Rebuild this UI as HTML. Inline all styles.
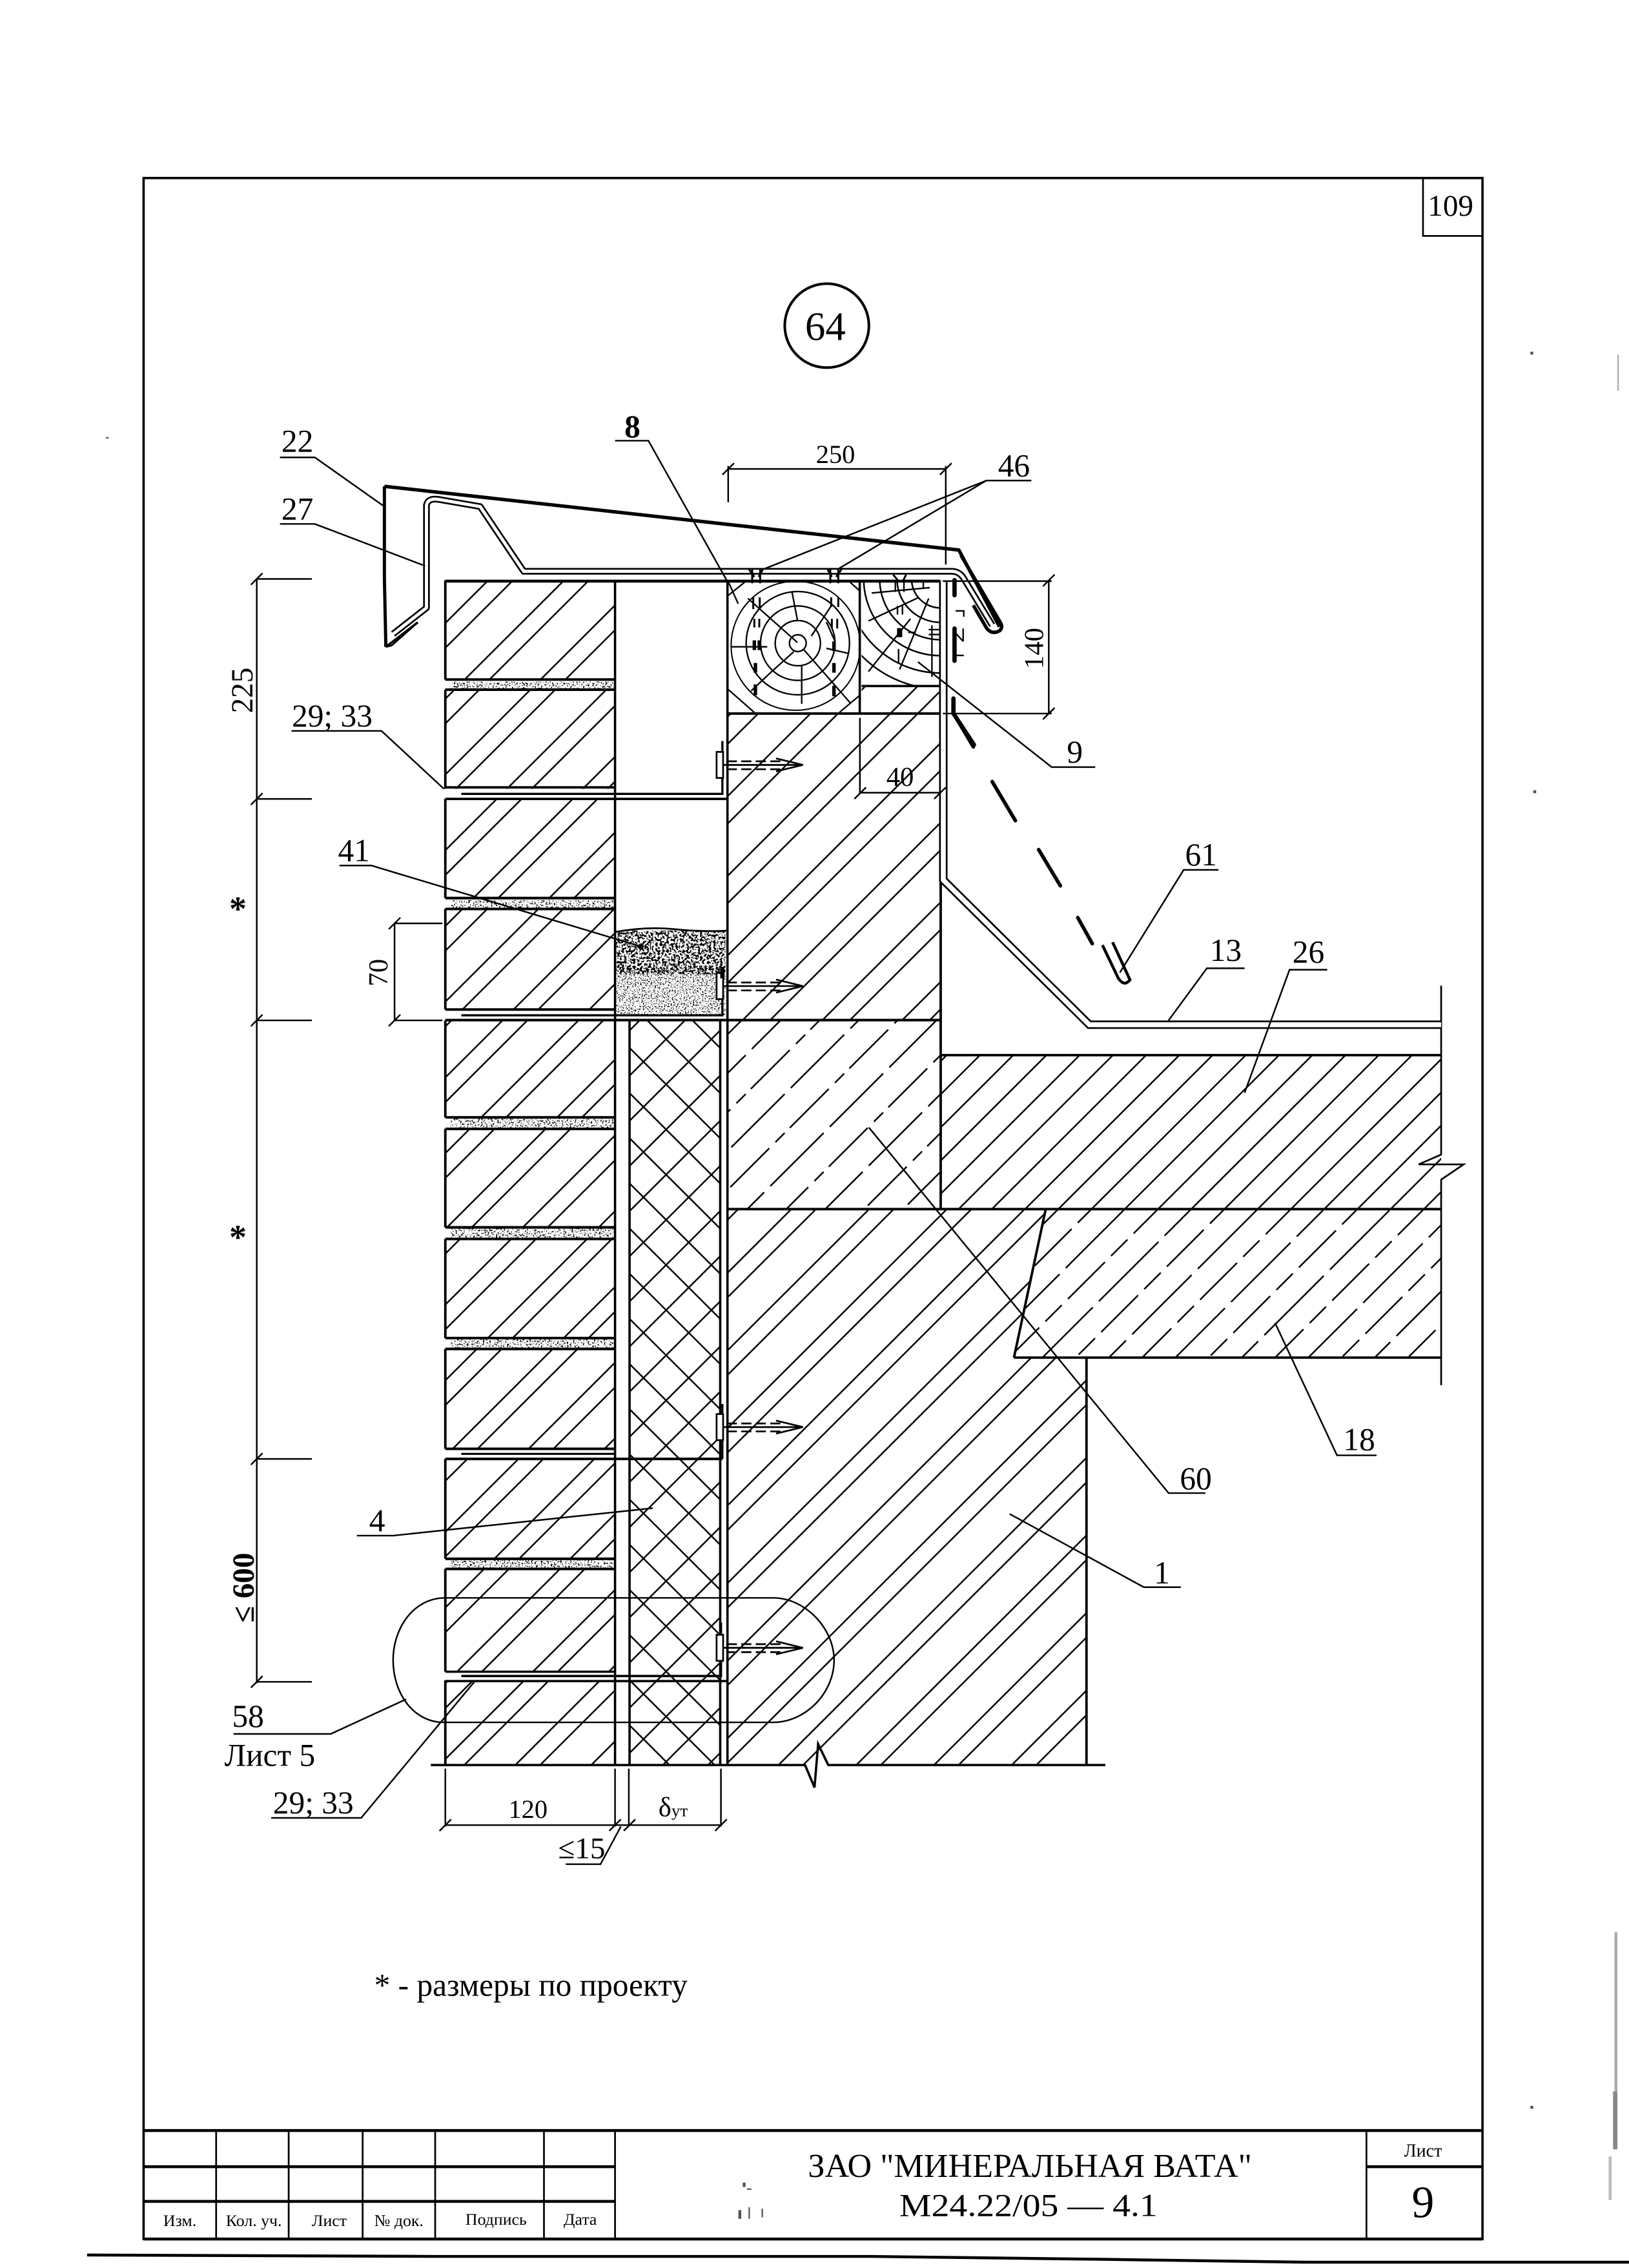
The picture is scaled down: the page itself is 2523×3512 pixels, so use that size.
<!DOCTYPE html>
<html><head><meta charset="utf-8"><title>64</title>
<style>html,body{margin:0;padding:0;background:#fff}svg{display:block}
text{font-family:"Liberation Serif","DejaVu Serif",serif;fill:#000}</style></head><body>
<svg xmlns="http://www.w3.org/2000/svg" width="2523" height="3512" viewBox="0 0 1123 1567" preserveAspectRatio="none">
<defs>
<pattern id="brick" patternUnits="userSpaceOnUse" width="37" height="20" patternTransform="rotate(45)"><path d="M3.500 0V20M15.600 0V20" stroke="#000" stroke-width="1.1"/></pattern>
<pattern id="conc" patternUnits="userSpaceOnUse" width="38.900" height="20" patternTransform="rotate(45)"><path d="M4.600 0V20M18 0V20" stroke="#000" stroke-width="1.1"/></pattern>
<pattern id="light" patternUnits="userSpaceOnUse" width="38" height="58" patternTransform="rotate(45)"><path d="M5 0V30M5 36V58M24 0V6M24 12V50M24 55V58" stroke="#000" stroke-width="1.1"/></pattern>
<pattern id="block" patternUnits="userSpaceOnUse" width="37.900" height="20" patternTransform="rotate(45)"><path d="M3.100 0V20M29 0V20" stroke="#000" stroke-width="1.1"/></pattern>
<pattern id="slab" patternUnits="userSpaceOnUse" width="16.200" height="20" patternTransform="rotate(45)"><path d="M5 0V20" stroke="#000" stroke-width="1.1"/></pattern>
<pattern id="plate" patternUnits="userSpaceOnUse" width="32.400" height="64" patternTransform="rotate(45)"><path d="M5 0V36M5 42V64M21.200 0V8M21.200 14V50M21.200 56V64" stroke="#000" stroke-width="1.1"/></pattern>
<pattern id="ins" patternUnits="userSpaceOnUse" width="31.200" height="31.200" patternTransform="translate(459.200 718)"><path d="M0 0L31.200 31.200M31.200 0L0 31.200" stroke="#000" stroke-width="1.1"/></pattern>
<filter id="noise" x="0" y="0" width="100%" height="100%"><feTurbulence type="fractalNoise" baseFrequency="0.9" numOctaves="2" seed="4"/><feColorMatrix values="0 0 0 0 0 0 0 0 0 0 0 0 0 0 0 0 0 0 12 -6.800"/></filter>
<filter id="sand1" x="0" y="0" width="100%" height="100%"><feTurbulence type="fractalNoise" baseFrequency="0.65" numOctaves="2" seed="9"/><feColorMatrix values="0 0 0 0 0 0 0 0 0 0 0 0 0 0 0 0 0 0 14 -6.800"/></filter>
<filter id="sand2" x="0" y="0" width="100%" height="100%"><feTurbulence type="fractalNoise" baseFrequency="1.1" numOctaves="2" seed="2"/><feColorMatrix values="0 0 0 0 0 0 0 0 0 0 0 0 0 0 0 0 0 0 14 -8"/></filter>
<clipPath id="t2"><rect x="594" y="402" width="54" height="72"/></clipPath>
</defs>
<rect width="1123" height="1567" fill="#fff"/>

<!-- frame -->
<g fill="none" stroke="#000">
<path d="M99 123H1022V1547H99Z" stroke-width="1.6"/>
<path d="M981 123V163H1022" stroke-width="1.2"/>
<circle cx="570" cy="225" r="29" stroke-width="1.8"/>
<path d="M60 1558L300 1559H600L760 1561 900 1563H1123" stroke-width="2"/>
</g>

<!-- hatched fills -->
<rect x="307" y="401" width="117" height="819" fill="url(#brick)"/>
<rect x="502" y="493" width="146" height="212" fill="url(#conc)"/>
<rect x="594" y="474" width="54" height="20" fill="url(#conc)"/>
<rect x="502" y="705" width="146.500" height="130" fill="url(#light)"/>
<path d="M502 835H721L699 938H749V1220H502Z" fill="url(#block)"/>
<rect x="648.500" y="729" width="345" height="106" fill="url(#slab)"/>
<path d="M721 835H993.500V938H699Z" fill="url(#plate)"/>
<rect x="434" y="705" width="62.500" height="515" fill="url(#ins)"/>

<!-- sand -->
<rect x="425" y="643" width="75" height="30" filter="url(#sand1)"/>
<rect x="425" y="668" width="75" height="33" filter="url(#sand2)"/>
<path d="M424 644Q445 640 465 642 T502 643" fill="none" stroke="#000" stroke-width="1.2"/>

<!-- mortar joints -->
<g fill="#fff">
<rect x="305" y="470" width="119" height="7"/><rect x="305" y="545" width="119" height="7"/>
<rect x="305" y="621" width="119" height="7"/><rect x="305" y="698" width="119" height="7"/>
<rect x="305" y="772" width="119" height="8"/><rect x="305" y="848" width="119" height="8"/>
<rect x="305" y="924" width="119" height="8"/><rect x="305" y="1001" width="119" height="7"/>
<rect x="305" y="1077" width="119" height="7"/><rect x="305" y="1155" width="119" height="6"/>
</g>
<rect x="311" y="471" width="112" height="5" filter="url(#noise)"/><rect x="311" y="622" width="112" height="5" filter="url(#noise)"/>
<rect x="311" y="773" width="112" height="6" filter="url(#noise)"/><rect x="311" y="849" width="112" height="6" filter="url(#noise)"/>
<rect x="311" y="925" width="112" height="6" filter="url(#noise)"/><rect x="311" y="1078" width="112" height="5" filter="url(#noise)"/>
<g fill="none" stroke="#000" stroke-width="1.8">
<path d="M307 469.500H424M307 476.500H424M307 620.500H424M307 628H424M307 697.500H424M307 704.800H648.500M307 772H424M307 780H424M307 848H424M307 856H424M307 924.500H424M307 932H424M307 1001H424M307 1008H498M307 1077H424M307 1084H424"/>
<!-- wall outlines -->
<path d="M307 401V469.500M307 476.500V545M307 552V620.500M307 628V697.500M307 705V772M307 780V848M307 856V924.500M307 932V1001M307 1008V1077M307 1084V1155M307 1161V1220" stroke-width="1.7"/>
<path d="M424 401V1220M434 705V1220M496.500 705V1008M496.500 1008V1220M501.500 401V1220" stroke-width="1.6"/>
<path d="M307 401.500H648" stroke-width="2"/>
<path d="M501.500 493H648" stroke-width="1.7"/>
<path d="M592.700 401V493M594 474H648" stroke-width="1.6"/>
<!-- flashing at joints -->
<path d="M307 544H424M307 552H501.500" stroke-width="1.7"/>
<path d="M318 548.500H498V512" stroke-width="1.5"/>
<path d="M318 701.500H498V668" stroke-width="1.5"/>
<path d="M318 1004.500H424M498 1008V970" stroke-width="1.4"/>
<path d="M307 1155H424M318 1158H497V1121M307 1161.500H501" stroke-width="1.6"/>
<path d="M297 1219.500H555L561.500 1235 564 1205 571 1219.500H762" stroke-width="1.6"/>
<path d="M648.500 401V835M502 835.400H993.500M648.500 729H993.500M749 938V1220M699 938H993.500M721 835L699 938" stroke-width="1.7"/>
<path d="M993.500 681V797.700L978 804.500H1009L993.500 815V957" stroke-width="1.2"/>
</g>

<!-- cap 22 -->
<path d="M265 336L661 380 689 433" fill="none" stroke="#000" stroke-width="2.4" stroke-linejoin="round"/>
<path d="M265 336V400L266 447" fill="none" stroke="#000" stroke-width="2.2"/>
<path d="M266 447L288 430" fill="none" stroke="#000" stroke-width="1.6"/>
<path d="M266 447L270 446 288 430" fill="none" stroke="#000" stroke-width="1.2"/>
<!-- flashing 27 double line -->
<path d="M271 438L294 420V349Q295 344 302 345L331 350 361 394.700H656Q661 394.700 664 399L684 432" fill="none" stroke="#000" stroke-width="4.600" stroke-linejoin="round"/>
<path d="M271 438L294 420V349Q295 344 302 345L331 350 361 394.700H656Q661 394.700 664 399L684 432" fill="none" stroke="#fff" stroke-width="2.200" stroke-linejoin="round"/>

<!-- right flashing -->
<path d="M650.300 401V608L751 708H993.500" fill="none" stroke="#000" stroke-width="5.800"/>
<path d="M650.300 401V608L751 708H993.500" fill="none" stroke="#fff" stroke-width="3.400"/>

<!-- timber detail, roof edge: coordinates from a 3x crop -->
<g transform="translate(489.600 383.700) scale(.1484 .1487)" fill="none" stroke="#000" stroke-width="7">
<circle cx="407" cy="408" r="39"/><circle cx="407" cy="408" r="105"/><circle cx="407" cy="408" r="173"/><circle cx="407" cy="408" r="240"/><circle cx="397" cy="420" r="300" stroke-width="6"/>
<path d="M175 200L405 405M380 170L405 300M565 230L470 375M265 425H95M640 455L540 432M388 448L280 545 190 630M432 435L650 685M425 510V690M540 310L580 400"/>
<path d="M85 125L130 225M85 185L160 125M650 125L695 165M80 620L205 730M600 730L695 650"/>
<path d="M200 195V250M230 195V250M562 195V240M595 195V240M205 295V335M228 295V335M565 295V340M590 295V340" stroke-width="9"/>
<path d="M205 395V440M228 395V440M575 400V445M210 500V545M575 500V545M210 600V650M575 605V655" stroke-width="16"/>
<path d="M195 65V130M232 65V130M180 65L205 100M245 65L225 100M558 65V130M595 65V130M545 65L565 100M610 65L585 100M850 90L875 120M910 90L895 120" stroke-width="9"/>
<path d="M860 125V170M900 125V170M750 175L1020 150M990 120V155M735 305L970 195M870 235V275M893 235V275M1015 200L880 530M735 540L930 295M875 435V500" stroke-width="7"/>
<path d="M880 340V375M920 358H955M1030 325V565M1015 345H1065M1015 368H1065" stroke-width="7"/>
<path d="M870 340H890V378H870Z" fill="#000" stroke-width="4"/>
<path d="M1135 115V185M1135 340V490M1130 665V735L1225 880" stroke-width="20" stroke-linecap="round"/>
<path d="M1140 258H1178V285M1175 340V400M1130 465H1178M1175 400L1130 350" stroke-width="7"/>
<path d="M1222 232L1285 340Q1310 370 1345 350 1360 335 1350 315L1165 0" stroke-width="16" stroke-linejoin="round"/>
</g>
<g clip-path="url(#t2)" fill="none" stroke="#000" stroke-width="1.1">
<circle cx="648.400" cy="400" r="20"/><circle cx="648.400" cy="400" r="30"/><circle cx="648.400" cy="400" r="42"/><circle cx="648.400" cy="400" r="53"/><circle cx="648.400" cy="400" r="65"/><circle cx="648.400" cy="400" r="76"/>
</g>

<!-- dashed 61 -->
<path d="M658 494L671 516M684 540L700 567M716 587L731 612M743 634L753 652" fill="none" stroke="#000" stroke-width="2.500" stroke-linecap="round"/>
<path d="M760 653L771 676Q775 682 779 677L767 651" fill="none" stroke="#000" stroke-width="2"/>

<!-- anchors -->
<g fill="none" stroke="#000" stroke-width="1.200">
<g id="a1"><rect x="494" y="519.500" width="4.500" height="18" fill="#fff"/><path d="M498 528.500H553.500"/><path d="M501 526H541M501 531.500H541" stroke-dasharray="7 3"/><path d="M535 524L553.500 528.500 535 533"/></g>
<use href="#a1" y="152.800"/>
<use href="#a1" y="457.500"/>
<use href="#a1" y="610"/>
</g>
<path d="M498 668V676" stroke="#000" stroke-width="3"/>

<!-- callout -->
<path d="M307 1104C285 1104 271 1125 271 1147 271 1170 285 1190 306 1190H533C555 1190 575 1170 575 1147 575 1125 555 1104 533 1104Z" fill="none" stroke="#000" stroke-width="1.100"/>

<!-- dimension lines & leaders -->
<g fill="none" stroke="#000" stroke-width="1.100">
<path d="M177 400V1163M177 400H215M177 552H215M177 705H215M177 1008H215M177 1162H215"/>
<path d="M173 404L181 396M173 556L181 548M173 709L181 701M173 1012L181 1004M173 1166L181 1158"/>
<path d="M272 638V705M272 638H305M272 705H305M268 642L276 634M268 709L276 701"/>
<path d="M502 324H652M502 322V347M652 322V390M498 328L506 320M648 328L656 320"/>
<path d="M650 401.500H725M650 493H725M723 401V493M719 405L727 397M719 497L727 489"/>
<path d="M592.800 496V548M592.800 547.700H648M589 552L597 544M644 552L652 544"/>
<path d="M307 1222V1262M424 1222V1262M433.500 1222V1262M497 1222V1262M307 1261H497"/>
<path d="M303 1265L311 1257M420 1265L428 1257M430 1265L438 1257M493 1265L501 1257"/>
<path d="M193 316H217L265 350M193 362H217L293 391"/>
<path d="M424 304.500H447L501 401"/>
<path d="M711 332H680L527 393M680 332L578 393"/>
<path d="M755 530H725L632.800 457.300"/>
<path d="M201 505H263L306 545"/>
<path d="M234 598H256L442 654"/>
<path d="M840 601H816L772 672"/>
<path d="M858 669H832L805.600 705"/>
<path d="M915 670H889L858 755"/>
<path d="M949 1005.500H921.700L879 914"/>
<path d="M831 1031.600H805.600L599 779"/>
<path d="M814 1096.600H788.500L696 1046"/>
<path d="M246 1061H271L450 1042"/>
<path d="M161 1198H228L280 1174"/>
<path d="M187 1256H249L327 1162"/>
<path d="M390 1288H414L428 1262"/>
</g>
<circle cx="442" cy="654" r="1.800" fill="#000"/>

<!-- labels -->
<g font-size="22" text-anchor="middle">
<text x="205" y="312">22</text>
<text x="205" y="359">27</text>
<text x="436" y="302" font-weight="bold">8</text>
<text x="576" y="320" font-size="18">250</text>
<text x="699" y="329">46</text>
<text x="741" y="527">9</text>
<text x="620.500" y="543" font-size="19">40</text>
<text x="229" y="502">29; 33</text>
<text x="244" y="595">41</text>
<text x="828" y="598">61</text>
<text x="845" y="664">13</text>
<text x="902" y="665">26</text>
<text x="937" y="1002">18</text>
<text x="824.400" y="1029">60</text>
<text x="801" y="1094">1</text>
<text x="260" y="1058">4</text>
<text x="171" y="1193">58</text>
<text x="186" y="1220">Лист 5</text>
<text x="216" y="1253">29; 33</text>
<text x="364" y="1256" font-size="18">120</text>
<text x="464" y="1255" font-size="19">δ<tspan font-size="12">ут</tspan></text>
<text x="401" y="1284" font-size="21">≤15</text>
<text x="1000" y="149" font-size="21">109</text>
<text x="569" y="235" font-size="28">64</text>
<text x="164" y="636" font-size="24" font-weight="bold">*</text>
<text x="164" y="863" font-size="24" font-weight="bold">*</text>
</g>
<g font-size="21" text-anchor="middle">
<text transform="translate(174 477) rotate(-90)">225</text>
<text transform="translate(175 1097) rotate(-90)" font-weight="bold">≤ 600</text>
<text transform="translate(267 672) rotate(-90)" font-size="19">70</text>
<text transform="translate(719 448) rotate(-90)" font-size="19">140</text>
</g>
<text x="258" y="1379" font-size="22" textLength="216" lengthAdjust="spacingAndGlyphs">* - размеры по проекту</text>

<!-- title block -->
<g fill="none" stroke="#000">
<path d="M99 1472H1022M99 1497H424M942 1497H1022M99 1521H424M99 1547H1022" stroke-width="2"/>
<path d="M149 1472V1547M199 1472V1547M250 1472V1547M300 1472V1547M375 1472V1547M424 1472V1547M942 1472V1547" stroke-width="1.200"/>
</g>
<g text-anchor="middle" font-size="11.500">
<text x="124" y="1538">Изм.</text>
<text x="175" y="1538">Кол. уч.</text>
<text x="227" y="1538">Лист</text>
<text x="275" y="1538">№ док.</text>
<text x="342" y="1537">Подпись</text>
<text x="400" y="1537">Дата</text>
<text x="981" y="1490" font-size="12.500">Лист</text>
<text x="981" y="1532" font-size="31">9</text>
</g>
<text x="557" y="1504" font-size="23" textLength="306" lengthAdjust="spacingAndGlyphs">ЗАО "МИНЕРАЛЬНАЯ ВАТА"</text>
<text x="620" y="1531" font-size="22" textLength="178" lengthAdjust="spacingAndGlyphs">М24.22/05  — 4.1</text>

<!-- scan specks -->
<g fill="#555">
<rect x="512" y="1508" width="2" height="3"/><rect x="515" y="1512" width="3" height="1"/><rect x="509" y="1527" width="2" height="6"/><rect x="516" y="1525" width="1" height="8"/><rect x="525" y="1526" width="1" height="6"/>
<rect x="1113" y="1335" width="2" height="110" opacity=".5"/><rect x="1112" y="1445" width="3" height="40" opacity=".7"/><rect x="1109" y="1490" width="2" height="30" opacity=".4"/>
<rect x="1115" y="245" width="1" height="25" opacity=".5"/><rect x="1055" y="243" width="2" height="2"/><rect x="1057" y="546" width="2" height="2"/><rect x="1055" y="1455" width="2" height="2"/><rect x="73" y="302" width="2" height="1"/>
</g>
</svg>
</body></html>
